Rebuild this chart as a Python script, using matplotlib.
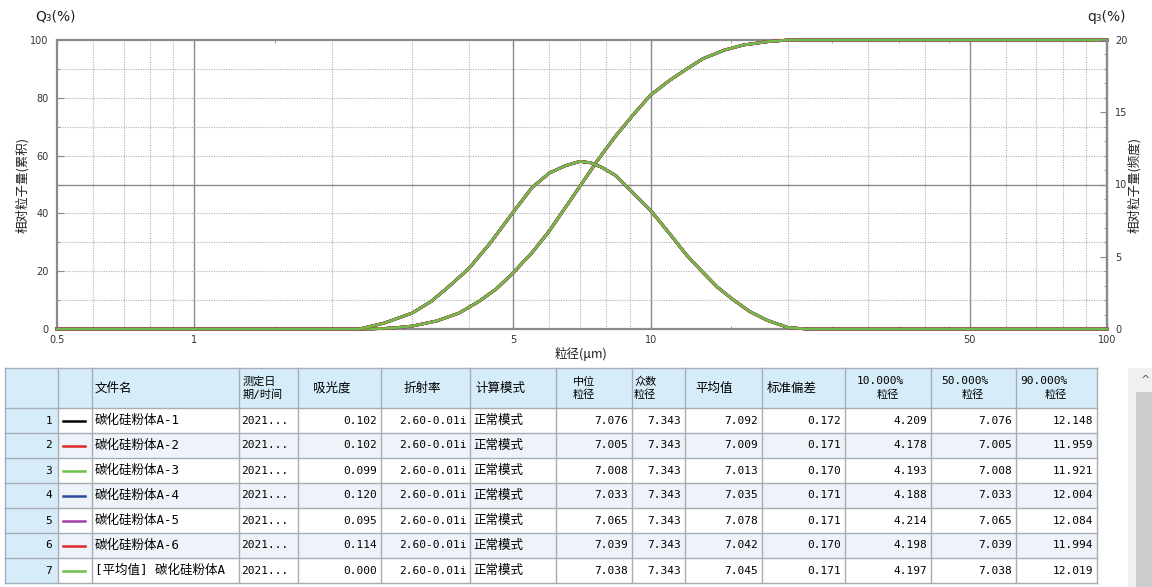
import matplotlib
matplotlib.use("Agg")
import matplotlib.pyplot as plt
from matplotlib.patches import Rectangle
from matplotlib.ticker import FixedLocator, NullFormatter

plt.rcParams['font.family'] = ['Noto Sans CJK SC', 'DejaVu Sans']

# particle size (um) vs cumulative Q3 (%)
size_cum = [0.5, 2.4, 2.7, 3.0, 3.4, 3.8, 4.2, 4.6, 5.0, 5.5, 6.0, 6.5, 7.04, 7.7,
            8.4, 9.2, 10.0, 11.0, 12.0, 13.0, 14.5, 16.0, 18.0, 20.0, 100]
q3_cum = [0, 0, 0.3, 1.0, 2.8, 5.5, 9.5, 14.0, 19.5, 26.5, 34.0, 42.0, 50.0, 59.0,
          67.0, 74.5, 81.0, 86.0, 90.0, 93.5, 96.5, 98.3, 99.4, 100, 100]

# particle size (um) vs frequency q3 (%)
size_freq = [0.5, 2.3, 2.6, 3.0, 3.3, 3.6, 4.0, 4.45, 5.0, 5.5, 6.0, 6.5, 7.0, 7.4,
             7.8, 8.4, 8.9, 10.0, 11.0, 12.0, 12.85, 14.0, 15.2, 16.5, 18.0, 20.0, 22.0, 100]
q3_freq = [0, 0, 0.4, 1.1, 1.9, 2.9, 4.2, 5.95, 8.1, 9.8, 10.8, 11.3, 11.6, 11.5,
           11.2, 10.6, 9.8, 8.2, 6.6, 5.1, 4.1, 2.9, 2.0, 1.2, 0.6, 0.1, 0, 0]

# result table
row_ids = ['1', '2', '3', '4', '5', '6', '7']
line_colors = ['#000000', '#e02828', '#6cc04a', '#2a4a9a', '#a040a8', '#e02828', '#6cc04a']
file_names = ['碳化硅粉体A-1', '碳化硅粉体A-2', '碳化硅粉体A-3', '碳化硅粉体A-4',
              '碳化硅粉体A-5', '碳化硅粉体A-6', '[平均值] 碳化硅粉体A']
dates = ['2021...'] * 7
absorbance = ['0.102', '0.102', '0.099', '0.120', '0.095', '0.114', '0.000']
refr_index = ['2.60-0.01i'] * 7
calc_mode = ['正常模式'] * 7
median_d = ['7.076', '7.005', '7.008', '7.033', '7.065', '7.039', '7.038']
mode_d = ['7.343'] * 7
mean_d = ['7.092', '7.009', '7.013', '7.035', '7.078', '7.042', '7.045']
std_dev = ['0.172', '0.171', '0.170', '0.171', '0.171', '0.170', '0.171']
d10 = ['4.209', '4.178', '4.193', '4.188', '4.214', '4.198', '4.197']
d50 = ['7.076', '7.005', '7.008', '7.033', '7.065', '7.039', '7.038']
d90 = ['12.148', '11.959', '11.921', '12.004', '12.084', '11.994', '12.019']

W, H = 1152, 587
fig = plt.figure(figsize=(W / 100, H / 100), dpi=100)

def fx(px):
    return px / W

def fy(py):
    return 1 - py / H

# ---------------- chart ----------------
ax = fig.add_axes([fx(57), fy(329), fx(1107) - fx(57), fy(40) - fy(329)])
ax2 = ax.twinx()
ax.set_xscale('log')
ax.set_xlim(0.5, 100)
ax.set_ylim(0, 100)
ax2.set_ylim(0, 20)

for v in [0.6, 0.7, 0.8, 0.9, 2, 3, 4, 6, 7, 8, 9, 20, 30, 40, 60, 70, 80, 90]:
    ax.axvline(v, color='#b0b0b0', lw=0.8, ls=(0, (1, 1.2)), zorder=0)
for v in [1, 5, 10, 50]:
    ax.axvline(v, color='#8c8c8c', lw=1.0, zorder=0)
for v in [10, 20, 30, 40, 60, 70, 80, 90]:
    ax.axhline(v, color='#b0b0b0', lw=0.8, ls=(0, (1, 1.2)), zorder=0)
ax.axhline(50, color='#8c8c8c', lw=1.0, zorder=0)

for i, c in enumerate(line_colors):
    last = i == len(line_colors) - 1
    lw = 1.8 if last else 2.0
    ax.plot(size_cum, q3_cum, color=c, lw=lw, zorder=3 + i, clip_on=False)
    ax2.plot(size_freq, q3_freq, color=c, lw=lw, zorder=3 + i, clip_on=False)

for s in ax.spines.values():
    s.set_color('#8a8a8a')
    s.set_linewidth(1.6)
for name, s in ax2.spines.items():
    s.set_visible(name == 'right')
    s.set_color('#8a8a8a')
    s.set_linewidth(1.6)

ax.xaxis.set_major_locator(FixedLocator([0.5, 1, 5, 10, 50, 100]))
ax.xaxis.set_minor_locator(FixedLocator([1.5, 15, 25, 35, 45]))
ax.xaxis.set_minor_formatter(NullFormatter())
ax.set_xticklabels(['0.5', '1', '5', '10', '50', '100'])
ax.tick_params(axis='x', which='both', direction='in', top=True, length=4,
               color='#8a8a8a', labelsize=7, labelcolor='#333333', pad=4)
ax.tick_params(axis='x', which='minor', length=2)

ax.set_yticks([0, 20, 40, 60, 80, 100])
ax.yaxis.set_minor_locator(FixedLocator(range(10, 100, 20)))
ax.tick_params(axis='y', which='both', direction='in', length=5, color='#8a8a8a',
               labelsize=7, labelcolor='#333333', pad=6)
ax.tick_params(axis='y', which='minor', length=2)

ax2.set_yticks([0, 5, 10, 15, 20])
ax2.yaxis.set_minor_locator(FixedLocator([v for v in range(1, 20) if v % 5]))
ax2.tick_params(axis='y', which='both', direction='in', length=5, color='#8a8a8a',
                labelsize=7, labelcolor='#333333', pad=6)
ax2.tick_params(axis='y', which='minor', length=2)
for lab in ax.get_xticklabels() + ax.get_yticklabels() + ax2.get_yticklabels():
    lab.set_family('DejaVu Sans')

fig.text(fx(35), fy(17), 'Q₃(%)', fontsize=10, family='DejaVu Sans',
         va='center', ha='left', color='#222222')
fig.text(fx(1126), fy(17), 'q₃(%)', fontsize=10, family='DejaVu Sans',
         va='center', ha='right', color='#222222')
fig.text(fx(22), fy(185), '相对粒子量(累积)', fontsize=9, rotation=90,
         va='center', ha='center', color='#222222')
fig.text(fx(1134), fy(185), '相对粒子量(频度)', fontsize=9, rotation=90,
         va='center', ha='center', color='#222222')
fig.text(fx(581), fy(354), '粒径(μm)', fontsize=9, va='center', ha='center',
         color='#222222')

# ---------------- result table ----------------
tb = fig.add_axes([0, 0, 1, 1])
tb.set_xlim(0, W)
tb.set_ylim(H, 0)
tb.axis('off')

mono = ['DejaVu Sans Mono', 'Noto Sans CJK SC']
col_edges = [5, 58, 92, 239, 298, 381, 470, 556, 632, 685, 762, 845, 931, 1016, 1097]
head_top, head_bot, row_h = 368, 408, 25
hdr_bg = '#d6ecf8'
alt_bg = '#eef2f9'
border = '#a6adb5'

tb.add_patch(Rectangle((col_edges[0], head_top), col_edges[-1] - col_edges[0],
                       head_bot - head_top, facecolor=hdr_bg, edgecolor='none'))
for r in range(7):
    y0 = head_bot + r * row_h
    bg = alt_bg if r % 2 else 'white'
    tb.add_patch(Rectangle((col_edges[1], y0), col_edges[-1] - col_edges[1], row_h,
                           facecolor=bg, edgecolor='none'))
    tb.add_patch(Rectangle((col_edges[0], y0), col_edges[1] - col_edges[0], row_h,
                           facecolor=hdr_bg, edgecolor='none'))

bottom = head_bot + 7 * row_h
for x in col_edges:
    tb.plot([x, x], [head_top, bottom], color=border, lw=1)
for y in [head_top, head_bot] + [head_bot + (r + 1) * row_h for r in range(7)]:
    tb.plot([col_edges[0], col_edges[-1]], [y, y], color=border, lw=1)

fs = 8
hy = (head_top + head_bot) / 2
single_heads = [(95, '文件名'), (313, '吸光度'), (404, '折射率'), (475, '计算模式'),
                (695, '平均值'), (767, '标准偏差')]
for x, t in single_heads:
    tb.text(x, hy, t, fontsize=fs + 1, va='center', ha='left')
double_heads = [(243, '测定日', 243, '期/时间'), (573, '中位', 573, '粒径'),
                (634, '众数', 634, '粒径'), (857, '10.000%', 877, '粒径'),
                (941, '50.000%', 962, '粒径'), (1020, '90.000%', 1045, '粒径')]
for x1, t1, x2, t2 in double_heads:
    tb.text(x1, hy - 6.5, t1, fontsize=fs, va='center', ha='left', family=mono)
    tb.text(x2, hy + 6.5, t2, fontsize=fs, va='center', ha='left', family=mono)

right_cols = [(377, absorbance), (467, refr_index), (628, median_d), (681, mode_d),
              (758, mean_d), (841, std_dev), (927, d10), (1012, d50), (1093, d90)]
for r in range(7):
    yc = head_bot + r * row_h + row_h / 2
    tb.text(52, yc, row_ids[r], fontsize=fs, va='center', ha='right', family=mono)
    tb.plot([63, 85], [yc, yc], color=line_colors[r], lw=1.8)
    tb.text(95, yc, file_names[r], fontsize=fs + 1, va='center', ha='left', family=mono)
    tb.text(241, yc, dates[r], fontsize=fs, va='center', ha='left', family=mono)
    tb.text(473, yc, calc_mode[r], fontsize=fs + 1, va='center', ha='left')
    for x, vals in right_cols:
        tb.text(x, yc, vals[r], fontsize=fs, va='center', ha='right', family=mono)

# scrollbar
tb.add_patch(Rectangle((1128, 368), 24, H - 368, facecolor='#f0f0f0', edgecolor='none'))
tb.add_patch(Rectangle((1136, 392), 16, H - 392, facecolor='#cdcdcd', edgecolor='none'))
tb.text(1145, 380, '^', fontsize=8, va='center', ha='center', color='#555555',
        family='DejaVu Sans')

fig.savefig('out.png', dpi=100)
